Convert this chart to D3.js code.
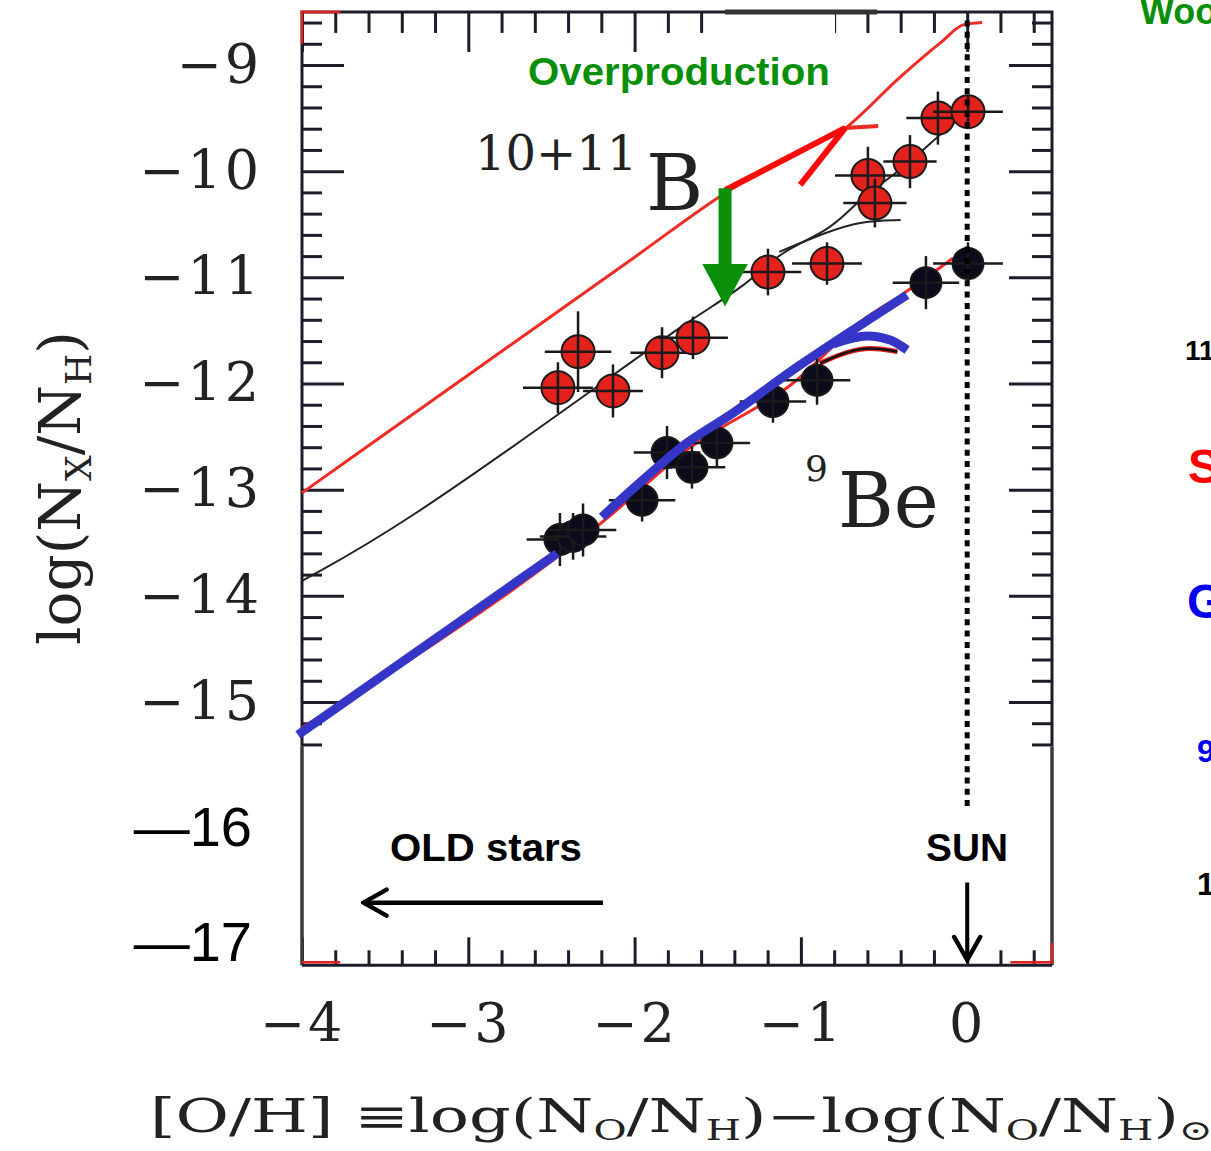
<!DOCTYPE html>
<html>
<head>
<meta charset="utf-8">
<script src="https://cdn.jsdelivr.net/npm/d3@7"></script>
<style>
  body { margin: 0; background: #fff; }
  svg { display: block; }
</style>
</head>
<body>
<svg id="chart" width="1211" height="1151"></svg>
<script>
'use strict';

// axis ticks
var ohMajor = [-4, -3, -2, -1, 0];
var logMajor = [-9, -10, -11, -12, -13, -14, -15];
var logPasted = [-16, -17];

// 10+11B stars (red), [O/H] vs log(N_B/N_H), with error half widths
var boronOH     = [-2.461, -2.340, -2.130, -1.835, -1.649, -1.198, -0.843, -0.597, -0.555, -0.344, -0.176, 0.005];
var boronLog    = [-12.04, -11.70, -12.07, -11.71, -11.57, -10.95, -10.87, -10.04, -10.30, -9.91, -9.50, -9.44];
var boronErrOH  = [0.21, 0.20, 0.18, 0.19, 0.21, 0.20, 0.21, 0.20, 0.19, 0.16, 0.19, 0.21];
var boronErrLog = [0.24, 0.38, 0.25, 0.24, 0.20, 0.22, 0.20, 0.27, 0.23, 0.25, 0.25, 0.15];

// 9Be stars (black)
var berylOH     = [-2.449, -2.370, -2.310, -1.955, -1.805, -1.655, -1.505, -1.168, -0.903, -0.248, 0.005];
var berylLog    = [-13.47, -13.44, -13.38, -13.10, -12.65, -12.79, -12.56, -12.17, -11.97, -11.05, -10.87];
var berylErrOH  = [0.20, 0.20, 0.20, 0.20, 0.20, 0.20, 0.20, 0.20, 0.20, 0.20, 0.21];
var berylErrLog = [0.25, 0.22, 0.25, 0.20, 0.25, 0.20, 0.22, 0.20, 0.23, 0.25, 0.20];

// thin red model for B (overproduction)
var bModelOH  = [-4, -3, -2, -1.45, -0.72, -0.40, -0.16, -0.02, 0.09];
var bModelLog = [-13.03, -11.92, -10.81, -10.20, -9.58, -9.11, -8.79, -8.62, -8.60];
var bKinkOH   = [-0.733, -0.535];
var bKinkLog  = [-9.593, -9.575];

// thin black fits for B
var bFitOH   = [-4, -3.41, -2.25, -1.67, -1.32, -1.13, -0.84, -0.69, -0.60, -0.35, -0.17, 0.0, 0.08];
var bFitLog  = [-13.86, -13.35, -12.06, -11.40, -11.07, -10.76, -10.57, -10.34, -10.21, -9.93, -9.66, -9.44, -9.35];
var bFlatOH  = [-1.13, -0.84, -0.64, -0.40];
var bFlatLog = [-10.76, -10.57, -10.47, -10.46];

// thin red model for Be (mostly under the blue stroke), and its turn-over
var beModelOH  = [-4, -2.47, -2.19, -1.68, -1.05, -0.625, -0.40, -0.085];
var beModelLog = [-15.24, -13.64, -13.30, -12.62, -12.00, -11.40, -11.17, -10.82];
var beTurnOH   = [-0.885, -0.643, -0.42];
var beTurnLog  = [-11.81, -11.64, -11.70];

// thick blue overlay for Be
var blueLowOH   = [-4.024, -2.466];
var blueLowLog  = [-15.31, -13.60];
var blueHighOH  = [-2.196, -1.950, -1.685, -1.408, -1.005, -0.362];
var blueHighLog = [-13.257, -12.909, -12.560, -12.278, -11.826, -11.166];
var blueBendOH  = [-0.806, -0.601, -0.463, -0.361];
var blueBendLog = [-11.627, -11.552, -11.590, -11.684];

var ink = "#1c1c2a";
var serif = "DejaVu Serif";
var sans = "Liberation Sans, Arial, sans-serif";

var svg = d3.select("#chart");
svg.append("rect").attr("width", 1211).attr("height", 1151).attr("fill", "#fff");

var x = d3.scaleLinear().domain([-4, 0.51]).range([302, 1052]);
var y = d3.scaleLinear().domain([-9, -15]).range([65, 702]);
var yPasted = d3.scaleLinear().domain([-16, -17]).range([828, 943]);

var xL = x(-4), xR = x(0.51);
var yTop = y(-8.5), yBot = y(-17.48), yOrig = y(-15.42);

function zip(a, b) { return a.map(function(d, i) { return [d, b[i]]; }); }
var line = d3.line().x(function(d) { return x(d[0]); }).y(function(d) { return y(d[1]); });
var smooth = d3.line().curve(d3.curveMonotoneX).x(function(d) { return x(d[0]); }).y(function(d) { return y(d[1]); });
var basis = d3.line().curve(d3.curveBasis).x(function(d) { return x(d[0]); }).y(function(d) { return y(d[1]); });
var catmull = d3.line().curve(d3.curveCatmullRom.alpha(0.5)).x(function(d) { return x(d[0]); }).y(function(d) { return y(d[1]); });

var defs = svg.append("defs");
defs.append("marker").attr("id", "chev")
  .attr("viewBox", "0 0 30 32").attr("refX", 27).attr("refY", 16)
  .attr("markerWidth", 30).attr("markerHeight", 32)
  .attr("markerUnits", "userSpaceOnUse").attr("orient", "auto")
  .append("path").attr("d", "M4,3 L27,16 L4,29")
  .attr("fill", "none").attr("stroke", "#000").attr("stroke-width", 4.5).attr("stroke-linecap", "round");
defs.append("marker").attr("id", "tri")
  .attr("viewBox", "0 0 43 46").attr("refX", 1).attr("refY", 23)
  .attr("markerWidth", 43).attr("markerHeight", 46)
  .attr("markerUnits", "userSpaceOnUse").attr("orient", "auto")
  .append("path").attr("d", "M0,0 L43,23 L0,46 Z").attr("fill", "#0a8f0a");

// ---- axes / ticks
var ohMinor = d3.range(-20, 3).map(function(i) { return i / 5; }).filter(function(d) { return Math.abs(d - Math.round(d)) > 1e-6; });
var logMinor = d3.range(-77, -42).map(function(i) { return i / 5; }).filter(function(d) { return Math.abs(d - Math.round(d)) > 1e-6; });

function tickGroup(tr, axis) {
  var g = svg.append("g").attr("transform", tr).call(axis);
  g.select(".domain").remove();
  g.selectAll("line").attr("stroke", ink).attr("stroke-width", 3);
  return g;
}
tickGroup("translate(0," + yTop + ")", d3.axisBottom(x).tickValues(ohMajor).tickSize(40).tickFormat(""));
tickGroup("translate(0," + yTop + ")", d3.axisBottom(x).tickValues(ohMinor).tickSize(21).tickFormat(""));
tickGroup("translate(0," + yBot + ")", d3.axisTop(x).tickValues(ohMajor).tickSize(28).tickFormat(""));
tickGroup("translate(0," + yBot + ")", d3.axisTop(x).tickValues(ohMinor).tickSize(15).tickFormat(""));
tickGroup("translate(" + xL + ",0)", d3.axisRight(y).tickValues(logMajor).tickSize(42).tickFormat(""));
tickGroup("translate(" + xL + ",0)", d3.axisRight(y).tickValues(logMinor).tickSize(20).tickFormat(""));
tickGroup("translate(" + xR + ",0)", d3.axisLeft(y).tickValues(logMajor).tickSize(43).tickFormat(""));
tickGroup("translate(" + xR + ",0)", d3.axisLeft(y).tickValues(logMinor).tickSize(20).tickFormat(""));

// frame: original part dark, pasted extension grey
var frame = svg.append("g").attr("fill", "none");
frame.append("path").attr("d", "M" + xL + "," + yOrig + "V" + yTop + "H" + xR + "V" + yOrig)
  .attr("stroke", ink).attr("stroke-width", 3);
frame.append("path").attr("d", "M" + xL + "," + yOrig + "V" + yBot + "M" + xR + "," + yOrig + "V" + yBot)
  .attr("stroke", "#3a3a3a").attr("stroke-width", 3.5);
frame.append("path").attr("d", "M" + xL + "," + yBot + "H" + xR)
  .attr("stroke", ink).attr("stroke-width", 3);

// small red remnants at the corners
var red = svg.append("g").attr("fill", "none").attr("stroke", "#e0201c").attr("stroke-width", 2.5);
red.append("path").attr("d", "M" + xL + "," + y(-8.8) + "V" + yTop + "H" + x(-3.77));
red.append("path").attr("d", "M" + xL + "," + (yBot - 3) + "H" + x(-3.77));
red.append("path").attr("d", "M" + x(0.26) + "," + (yBot - 3) + "H" + xR + "V" + (yBot - 22));

// tick labels
var intFmt = d3.format("d");
var yl = svg.append("g").attr("transform", "translate(" + xL + ",0)")
  .call(d3.axisLeft(y).tickValues(logMajor).tickSize(0).tickPadding(40).tickFormat(intFmt));
yl.select(".domain").remove();
yl.attr("font-family", serif).attr("font-size", 54).attr("color", "#222");
yl.selectAll("text").attr("letter-spacing", 3);

var yl2 = svg.append("g").attr("transform", "translate(" + xL + ",0)")
  .call(d3.axisLeft(yPasted).tickValues(logPasted).tickSize(0).tickPadding(50)
    .tickFormat(function(d) { return "\u2014" + Math.abs(d); }));
yl2.select(".domain").remove();
yl2.attr("font-family", sans).attr("font-size", 56).attr("color", "#000");

var xl = svg.append("g").attr("transform", "translate(0," + yBot + ")")
  .call(d3.axisBottom(x).tickValues(ohMajor).tickSize(0).tickPadding(38).tickFormat(intFmt));
xl.select(".domain").remove();
xl.attr("font-family", serif).attr("font-size", 54).attr("color", "#222");
xl.selectAll("text").attr("letter-spacing", 3);

// ---- model curves and fits
var curves = svg.append("g").attr("fill", "none");
curves.append("path").attr("d", smooth(zip(bModelOH, bModelLog))).attr("stroke", "#f02a24").attr("stroke-width", 3);
curves.append("path").attr("d", line(zip(bKinkOH, bKinkLog))).attr("stroke", "#f02a24").attr("stroke-width", 4);
curves.append("path").attr("d", basis(zip(bFitOH, bFitLog))).attr("stroke", "#222").attr("stroke-width", 2);
curves.append("path").attr("d", basis(zip(bFlatOH, bFlatLog))).attr("stroke", "#222").attr("stroke-width", 2);
curves.append("path").attr("d", smooth(zip(beModelOH, beModelLog))).attr("stroke", "#f02a24").attr("stroke-width", 3);
curves.append("path").attr("d", basis(zip(beTurnOH, beTurnLog))).attr("stroke", "#e0201c").attr("stroke-width", 5);
curves.append("path").attr("d", basis(zip(beTurnOH, beTurnLog))).attr("stroke", "#111").attr("stroke-width", 2.5);

// ---- stars
function stars(ohs, logs, eoh, elog, fill, r) {
  var g = svg.append("g");
  var pts = ohs.map(function(d, i) { return { oh: d, lg: logs[i], ex: eoh[i], ey: elog[i] }; });
  var p = g.selectAll("g").data(pts).enter().append("g");
  p.append("circle")
    .attr("cx", function(d) { return x(d.oh); })
    .attr("cy", function(d) { return y(d.lg); })
    .attr("r", r).attr("fill", fill).attr("stroke", "#1a1a1a").attr("stroke-width", 2);
  p.append("line")
    .attr("x1", function(d) { return x(d.oh - d.ex); }).attr("x2", function(d) { return x(d.oh + d.ex); })
    .attr("y1", function(d) { return y(d.lg); }).attr("y2", function(d) { return y(d.lg); })
    .attr("stroke", "#1a1a1a").attr("stroke-width", 2.5);
  p.append("line")
    .attr("x1", function(d) { return x(d.oh); }).attr("x2", function(d) { return x(d.oh); })
    .attr("y1", function(d) { return y(d.lg - d.ey); }).attr("y2", function(d) { return y(d.lg + d.ey); })
    .attr("stroke", "#1a1a1a").attr("stroke-width", 2.5);
}
stars(berylOH, berylLog, berylErrOH, berylErrLog, "#0b0b1c", 15.5);
stars(boronOH, boronLog, boronErrOH, boronErrLog, "#e3221d", 16.5);

// pasted white box under "Overproduction" and its thick top edge
svg.append("rect").attr("x", 727).attr("y", yTop + 2).attr("width", 108).attr("height", 185 - yTop)
  .attr("fill", "#fff");
svg.append("line").attr("x1", 725).attr("x2", 877).attr("y1", yTop).attr("y2", yTop)
  .attr("stroke", "#333").attr("stroke-width", 5);

// ---- blue hand drawn overlay
var blue = svg.append("g").attr("fill", "none").attr("stroke", "#3535c8").attr("stroke-width", 9);
blue.append("path").attr("d", line(zip(blueLowOH, blueLowLog)));
blue.append("path").attr("d", catmull(zip(blueHighOH, blueHighLog)));
blue.append("path").attr("d", smooth(zip(blueBendOH, blueBendLog))).attr("stroke-linecap", "butt");

// ---- annotations
svg.append("path")
  .attr("d", line([[-1.456, -10.18], [-0.733, -9.593], [-1.004, -10.13]]))
  .attr("fill", "none").attr("stroke", "#ff0a0a").attr("stroke-width", 6).attr("stroke-linejoin", "miter");
svg.append("path")
  .attr("d", line([[-1.456, -10.16], [-1.456, -10.88]]))
  .attr("stroke", "#0a8f0a").attr("stroke-width", 13).attr("marker-end", "url(#tri)");

svg.append("path")
  .attr("d", "M" + x(0) + "," + y(-8.58) + "V" + y(-16.0))
  .attr("stroke", "#000").attr("stroke-width", 5).attr("stroke-dasharray", "6 5.3");
svg.append("path")
  .attr("d", "M" + x(0) + "," + y(-16.70) + "V" + y(-17.43))
  .attr("stroke", "#000").attr("stroke-width", 4).attr("marker-end", "url(#chev)");
svg.append("path")
  .attr("d", "M" + x(-2.19) + "," + y(-16.89) + "H" + x(-3.63))
  .attr("stroke", "#000").attr("stroke-width", 4.5).attr("marker-end", "url(#chev)");

// ---- texts
function stretchTo(t, width) {
  var bb = t.node().getBBox();
  var k = width / bb.width;
  t.attr("transform", "translate(" + bb.x + ",0) scale(" + k + ",1) translate(" + (-bb.x) + ",0)");
}
function rich(t, parts, shift) {
  var off = 0;
  parts.forEach(function(p) {
    var target = p[1] ? shift : 0;
    t.append("tspan").attr("dy", target - off).attr("font-size", p[1] ? "62%" : null).text(p[0]);
    off = target;
  });
}

var t;
t = svg.append("text").attr("x", 528).attr("y", 85).attr("font-family", sans).attr("font-weight", "bold")
  .attr("font-size", 38).attr("fill", "#0a8f0a").text("Overproduction");
stretchTo(t, 302);
t = svg.append("text").attr("x", 390).attr("y", 861).attr("font-family", sans).attr("font-weight", "bold")
  .attr("font-size", 38).attr("fill", "#000").text("OLD stars");
stretchTo(t, 192);
t = svg.append("text").attr("x", 926).attr("y", 861).attr("font-family", sans).attr("font-weight", "bold")
  .attr("font-size", 38).attr("fill", "#000").text("SUN");
stretchTo(t, 82);

svg.append("text").attr("x", 475).attr("y", 170).attr("font-family", serif).attr("font-size", 48)
  .attr("fill", "#222").text("10+11");
svg.append("text").attr("x", 646).attr("y", 210).attr("font-family", serif).attr("font-size", 78)
  .attr("fill", "#222").text("B");
svg.append("text").attr("x", 805).attr("y", 481).attr("font-family", serif).attr("font-size", 36)
  .attr("fill", "#222").text("9");
svg.append("text").attr("x", 838).attr("y", 527).attr("font-family", serif).attr("font-size", 76)
  .attr("fill", "#222").text("Be");

// axis titles
t = svg.append("text").attr("x", 150).attr("y", 1132).attr("font-family", serif).attr("font-size", 46)
  .attr("fill", "#222");
rich(t, [["[O/H] \u2261log(N", 0], ["O", 1], ["/N", 0], ["H", 1], [")\u2212log(N", 0], ["O", 1], ["/N", 0], ["H", 1], [")", 0], ["\u2299", 1]], 8);
stretchTo(t, 1063);

t = svg.append("text").attr("transform", "translate(80,488) rotate(-90)").attr("text-anchor", "middle")
  .attr("font-family", serif).attr("font-size", 58).attr("fill", "#222");
rich(t, [["log(N", 0], ["X", 1], ["/N", 0], ["H", 1], [")", 0]], 11);

// cut-off texts of the slide at the right edge
var edge = [
  ["Woo", 1140, 24, 36, "#0a8f0a"],
  ["11", 1185, 360, 28, "#000"],
  ["S", 1188, 483, 48, "#ff0000"],
  ["G", 1187, 618, 48, "#0000ee"],
  ["9", 1197, 762, 32, "#0000ee"],
  ["1", 1197, 895, 32, "#000"]
];
svg.append("g").selectAll("text").data(edge).enter().append("text")
  .attr("x", function(d) { return d[1]; }).attr("y", function(d) { return d[2]; })
  .attr("font-family", sans).attr("font-weight", "bold")
  .attr("font-size", function(d) { return d[3]; }).attr("fill", function(d) { return d[4]; })
  .text(function(d) { return d[0]; });
</script>
</body>
</html>
